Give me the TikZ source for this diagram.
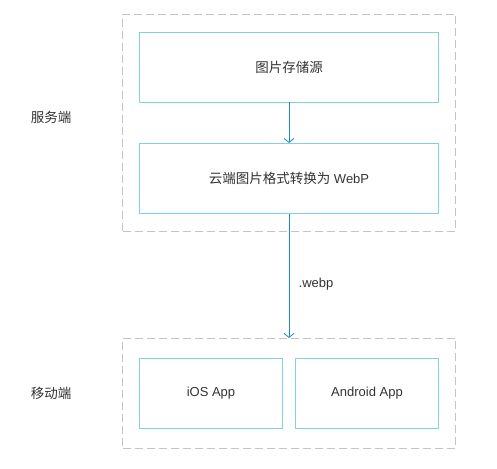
\documentclass[tikz,border=0pt]{standalone}
\usepackage{fontspec}
\setmainfont{Liberation Sans}
\newfontfamily\cjk{Noto Sans CJK SC}
\usetikzlibrary{arrows.meta}
\definecolor{boxc}{HTML}{7FD3E0}
\definecolor{arrc}{HTML}{1F8AB3}
\definecolor{dashc}{HTML}{C4C4C4}
\definecolor{txtc}{HTML}{333333}
\tikzset{
  x=1pt,y=-1pt,
  grp/.style={draw=dashc,line width=0.8pt,dash pattern=on 8pt off 4pt,inner sep=0pt},
  blk/.style={draw=boxc,line width=0.8pt,inner sep=0pt,text=txtc,font=\fontsize{13}{15}\selectfont},
  lbl/.style={text=txtc,font=\fontsize{13.5}{15}\selectfont\cjk},
  conn/.style={draw=arrc,line width=0.8pt,-{Straight Barb[length=4pt,width=10pt]}}
}
\begin{document}
\begin{tikzpicture}
\useasboundingbox (0,0) rectangle (497,468);
% groups
\node[grp,minimum width=333pt,minimum height=217pt] (srv) at (289,122.5) {};
\node[grp,minimum width=333pt,minimum height=110pt] (mob) at (289,393.3) {};
% boxes
\node[blk,minimum width=299.4pt,minimum height=69.7pt] (src) at (289,67.2) {\fontsize{13.5}{15}\selectfont\cjk 图片存储源};
\node[blk,minimum width=299.4pt,minimum height=70pt] (conv) at (289,178.3) {{\fontsize{13.5}{15}\selectfont\cjk 云端图片格式转换为} WebP};
\node[blk,minimum width=143.4pt,minimum height=70pt] (ios) at (211,393.3) {iOS App};
\node[blk,minimum width=143.4pt,minimum height=70pt] (and) at (367,393.3) {Android App};
% side labels
\node[lbl] (lsrv) at (51,117) {服务端};
\node[lbl] (lmob) at (51,393) {移动端};
% connectors
\draw[conn] (src.south) -- (conv.north);
\draw[conn] (conv.south) -- (conv.south |- mob.north) node[pos=0.57,right=6pt,text=txtc,font=\fontsize{13}{15}\selectfont] (wl) {.webp};
\end{tikzpicture}
\end{document}
